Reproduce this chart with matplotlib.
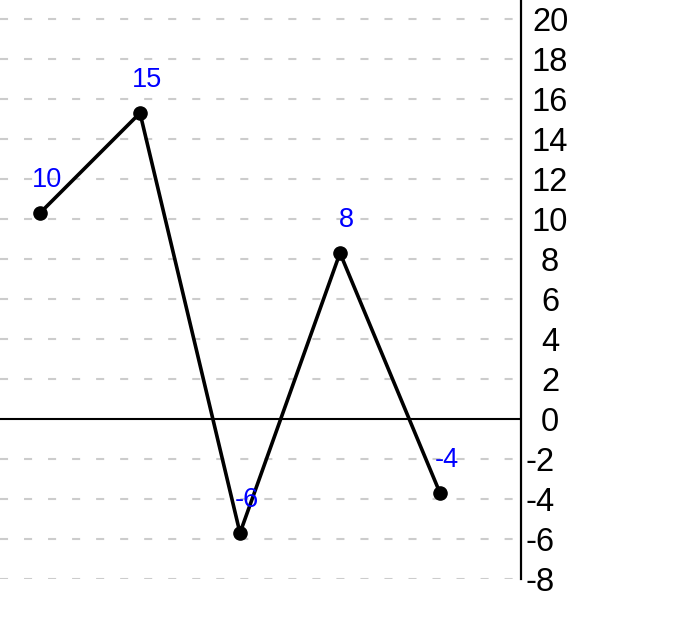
import matplotlib
matplotlib.use('Agg')
import matplotlib.pyplot as plt
import matplotlib.transforms as mtransforms
import numpy as np

# chart data
categories = [0, 1, 2, 3, 4]
values = [10, 15, -6, 8, -4]
point_labels = ['10', '15', '-6', '8', '-4']
y_ticks = list(range(-8, 21, 2))

plt.rcParams['font.family'] = ['Liberation Sans', 'DejaVu Sans']
plt.rcParams['lines.scale_dashes'] = False

fig = plt.figure(figsize=(6.9, 6.4), dpi=100)
ax = fig.add_axes([0, 61 / 640, 521 / 690, 579 / 640])

ax.set_xlim(-0.4, 4.81)
ax.set_ylim(-8, 20.95)

# dashed grid lines, solid zero line
for t in y_ticks:
    if t == 0:
        continue
    ax.axhline(t, color='#cccccc', lw=1.5, ls=(0, (5.8, 11.5)), zorder=1)
ax.axhline(0, color='black', lw=1.5, zorder=2)

# the line is drawn a few pixels above its values in the reference
shift = mtransforms.ScaledTranslation(0, 6 / 100, fig.dpi_scale_trans)
ax.plot(categories, values, color='black', lw=2.6, marker='o',
        markersize=9.5, zorder=3, transform=ax.transData + shift)

for x, v, lab in zip(categories, values, point_labels):
    ax.annotate(lab, xy=(x, v), xytext=(4.7, 28.4),
                textcoords='offset points', ha='center', va='center',
                color='blue', fontsize=19.5, zorder=4)

# right hand y axis
for side in ['left', 'top', 'bottom']:
    ax.spines[side].set_visible(False)
ax.spines['right'].set_linewidth(1.6)
ax.set_xticks([])
ax.yaxis.tick_right()
ax.set_yticks(y_ticks)
ax.set_yticklabels([str(t) for t in y_ticks])
ax.tick_params(axis='y', length=0, pad=20.9, labelsize=23.5)

neg_shift = mtransforms.ScaledTranslation(-10 / 100, 0, fig.dpi_scale_trans)
for tick, t in zip(ax.yaxis.get_major_ticks(), y_ticks):
    tick.label2.set_horizontalalignment('center')
    if t < 0:
        tick.label2.set_transform(tick.label2.get_transform() + neg_shift)

fig.savefig('out.png', dpi=100)
